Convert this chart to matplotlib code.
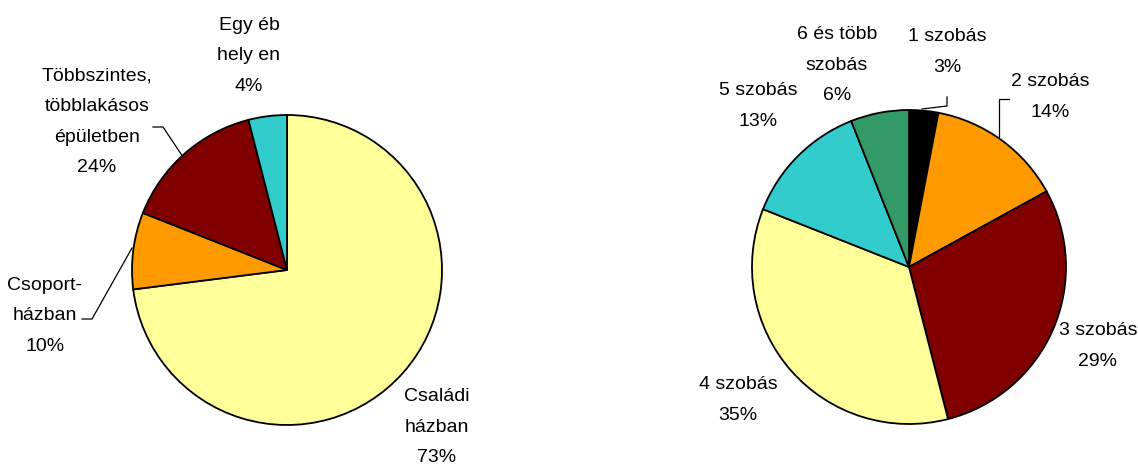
import matplotlib
matplotlib.use("Agg")
import matplotlib.pyplot as plt

# left pie: type of building
left_sizes = [73, 8, 15, 4]
left_colors = ['#FFFF99', '#FF9900', '#800000', '#33CCCC']
left_labels = ['Családi\nházban\n73%', 'Csoport-\nházban\n10%',
               'Többszintes,\ntöbblakásos\népületben\n24%', 'Egy éb\nhely en\n4%']

# right pie: number of rooms
right_sizes = [3, 14, 29, 35, 13, 6]
right_colors = ['#000000', '#FF9900', '#800000', '#FFFF99', '#33CCCC', '#339966']
right_labels = ['1 szobás\n3%', '2 szobás\n14%', '3 szobás\n29%', '4 szobás\n35%',
                '5 szobás\n13%', '6 és több\nszobás\n6%']

W, H = 1138, 470
plt.rcParams['font.family'] = ['Liberation Sans', 'DejaVu Sans']

fig = plt.figure(figsize=(W / 100, H / 100), dpi=100)
ax = fig.add_axes([0, 0, 1, 1])

wp = dict(edgecolor='black', linewidth=1.3)
ax.pie(left_sizes, colors=left_colors, startangle=90, counterclock=False,
       center=(287, H - 270), radius=155, wedgeprops=wp, frame=True)
ax.pie(right_sizes, colors=right_colors, startangle=90, counterclock=False,
       center=(909, H - 267), radius=157, wedgeprops=wp, frame=True)
ax.set_xlim(0, W)
ax.set_ylim(0, H)
ax.set_aspect('equal')
ax.axis('off')

fs = 14
ls = 2.05
left_pos = [(437, 427), (45, 316), (97, 122), (249, 56)]
for (x, y), t in zip(left_pos, left_labels):
    ax.text(x, H - y, t, ha='center', va='center', fontsize=fs, linespacing=ls)

right_pos = [(947, 52), (1050, 97), (1098, 346), (738, 400), (758, 106), (837, 65)]
for (x, y), t in zip(right_pos, right_labels):
    ax.text(x, H - y, t, ha='center', va='center', fontsize=fs, linespacing=ls)

# leader lines
lines = [
    ([153, 163, 183], [127, 127, 157]),
    ([82, 92, 132], [319, 319, 248]),
    ([947, 947, 922], [97, 106, 109]),
    ([1009, 999, 999], [99, 99, 137]),
]
for xs, ys in lines:
    ax.plot(xs, [H - y for y in ys], color='black', linewidth=0.9)

fig.savefig('out.png', dpi=100)
